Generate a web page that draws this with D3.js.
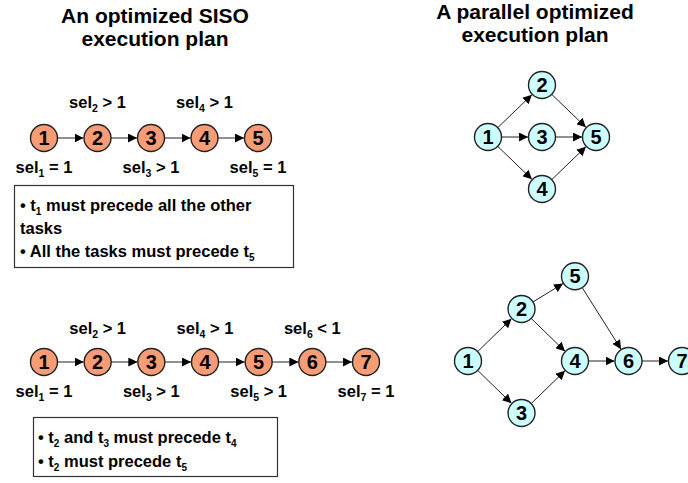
<!DOCTYPE html>
<html><head><meta charset="utf-8">
<script src="https://cdn.jsdelivr.net/npm/d3@7"></script>
<style>body{margin:0;background:#fff}svg{display:block}text{font-family:"Liberation Sans",Arial,sans-serif;font-weight:bold}</style>
</head><body><svg id="c" width="688" height="483"></svg>
<script>
// ---- data ----
const titles = [
  {lines:["An optimized SISO","execution plan"], cx:155, y:23},
  {lines:["A parallel optimized","execution plan"], cx:535, y:19}
];
// SISO chain 1
const chain1Nodes = [1,2,3,4,5];
const chain1Sel = [{i:1,op:"=",v:1},{i:2,op:">",v:1},{i:3,op:">",v:1},{i:4,op:">",v:1},{i:5,op:"=",v:1}];
// SISO chain 2
const chain2Nodes = [1,2,3,4,5,6,7];
const chain2Sel = [{i:1,op:"=",v:1},{i:2,op:">",v:1},{i:3,op:">",v:1},{i:4,op:">",v:1},{i:5,op:">",v:1},{i:6,op:"<",v:1},{i:7,op:"=",v:1}];
// parallel plan 1: node id, column, row
const par1Nodes = [{id:1,c:0,r:0},{id:2,c:1,r:-1},{id:3,c:1,r:0},{id:4,c:1,r:1},{id:5,c:2,r:0}];
const par1Edges = [[1,2],[1,3],[1,4],[2,5],[3,5],[4,5]];
// parallel plan 2
const par2Nodes = [{id:1,c:0,r:0},{id:2,c:1,r:-1},{id:3,c:1,r:1},{id:4,c:2,r:0},{id:5,c:2,r:-1.63},{id:6,c:3,r:0},{id:7,c:4,r:0}];
const par2Edges = [[1,2],[1,3],[2,5],[2,4],[3,4],[5,6],[4,6],[6,7]];
// constraint boxes (each line: array of [text, isSubscript])
const box1Lines = [
  [["• t",0],["1",1],[" must precede all the other",0]],
  [["tasks",0]],
  [["• All the tasks must precede t",0],["5",1]]
];
const box2Lines = [
  [["• t",0],["2",1],[" and t",0],["3",1],[" must precede t",0],["4",1]],
  [["• t",0],["2",1],[" must precede t",0],["5",1]]
];

// ---- drawing ----
const svg = d3.select("#c");
const R = 13.5;
const ORANGE = "#F79C74", CYAN = "#CCFFFF", STROKE = "#222";

svg.append("defs").append("marker")
  .attr("id","arr").attr("viewBox","0 0 10 10").attr("refX",10).attr("refY",5)
  .attr("markerWidth",9).attr("markerHeight",9).attr("markerUnits","userSpaceOnUse")
  .attr("orient","auto")
  .append("path").attr("d","M0,0L10,5L0,10Z").attr("fill","#000");

titles.forEach(t=>{
  const tx = svg.append("text").attr("text-anchor","middle").attr("font-size",21).attr("fill","#000");
  t.lines.forEach((l,k)=>tx.append("tspan").attr("x",t.cx).attr("y",t.y+k*23).text(l));
});

function drawEdges(pos, edges){
  edges.forEach(([a,b])=>{
    const p=pos(a), q=pos(b);
    const dx=q[0]-p[0], dy=q[1]-p[1], L=Math.hypot(dx,dy);
    const ux=dx/L, uy=dy/L;
    svg.append("line")
      .attr("x1",p[0]+ux*R).attr("y1",p[1]+uy*R)
      .attr("x2",q[0]-ux*(R+0.5)).attr("y2",q[1]-uy*(R+0.5))
      .attr("stroke","#222").attr("stroke-width",1).attr("marker-end","url(#arr)");
  });
}
function drawNodes(list, pos, fill){
  list.forEach(id=>{
    const p=pos(id);
    svg.append("circle").attr("cx",p[0]).attr("cy",p[1]).attr("r",R)
      .attr("fill",fill).attr("stroke",STROKE).attr("stroke-width",1.4);
    svg.append("text").attr("x",p[0]).attr("y",p[1]+7).attr("text-anchor","middle")
      .attr("font-size",20).attr("fill","#000").text(id);
  });
}
function selLabel(x,y,s){
  const t = svg.append("text").attr("x",x).attr("y",y).attr("text-anchor","middle").attr("font-size",16.5).attr("fill","#000");
  t.append("tspan").text("sel");
  t.append("tspan").attr("font-size",10.5).attr("dy",4).text(s.i);
  t.append("tspan").attr("dy",-4).text(" "+s.op+" "+s.v);
}

function chain(nodes, sels, xScale, y, yTop, yBot, fill){
  const pos = id => [xScale(nodes.indexOf(id)), y];
  const edges = d3.pairs(nodes);
  drawEdges(pos, edges);
  drawNodes(nodes, pos, fill);
  sels.forEach((s,k)=>{
    const x = xScale(nodes.indexOf(s.i));
    selLabel(x, k%2===1 ? yTop : yBot, s);
  });
}

const x1 = d3.scaleLinear().domain([0,4]).range([44,258]);
chain(chain1Nodes, chain1Sel, x1, 138, 108, 173, ORANGE);
const x2 = d3.scaleLinear().domain([0,6]).range([44,366]);
chain(chain2Nodes, chain2Sel, x2, 362, 334, 397, ORANGE);

function graph(nodes, edges, xs, ys){
  const m = new Map(nodes.map(n=>[n.id,n]));
  const pos = id => [xs(m.get(id).c), ys(m.get(id).r)];
  drawEdges(pos, edges);
  drawNodes(nodes.map(n=>n.id), pos, CYAN);
}
graph(par1Nodes, par1Edges, d3.scaleLinear().domain([0,2]).range([488,596]), d3.scaleLinear().domain([-1,1]).range([85,189]));
graph(par2Nodes, par2Edges, d3.scaleLinear().domain([0,4]).range([468,682]), d3.scaleLinear().domain([-1,1]).range([309,413]));

function box(x,y,w,h,lines,tx,ty,lh){
  svg.append("rect").attr("x",x).attr("y",y).attr("width",w).attr("height",h)
    .attr("fill","#fff").attr("stroke","#333").attr("stroke-width",1.2);
  lines.forEach((parts,k)=>{
    const t = svg.append("text").attr("x",tx).attr("y",ty+k*lh).attr("font-size",16.5).attr("fill","#000");
    let sub=false;
    parts.forEach(([s,isSub])=>{
      const sp = t.append("tspan").text(s);
      if(isSub && !sub){ sp.attr("font-size",10).attr("dy",4); sub=true; }
      else if(!isSub && sub){ sp.attr("dy",-4); sub=false; }
      else if(isSub) sp.attr("font-size",10);
    });
  });
}
box(14.5,185.5,279,82,box1Lines,20,211,23);
box(33.5,417.5,244,59,box2Lines,38,443,24);
</script></body></html>
